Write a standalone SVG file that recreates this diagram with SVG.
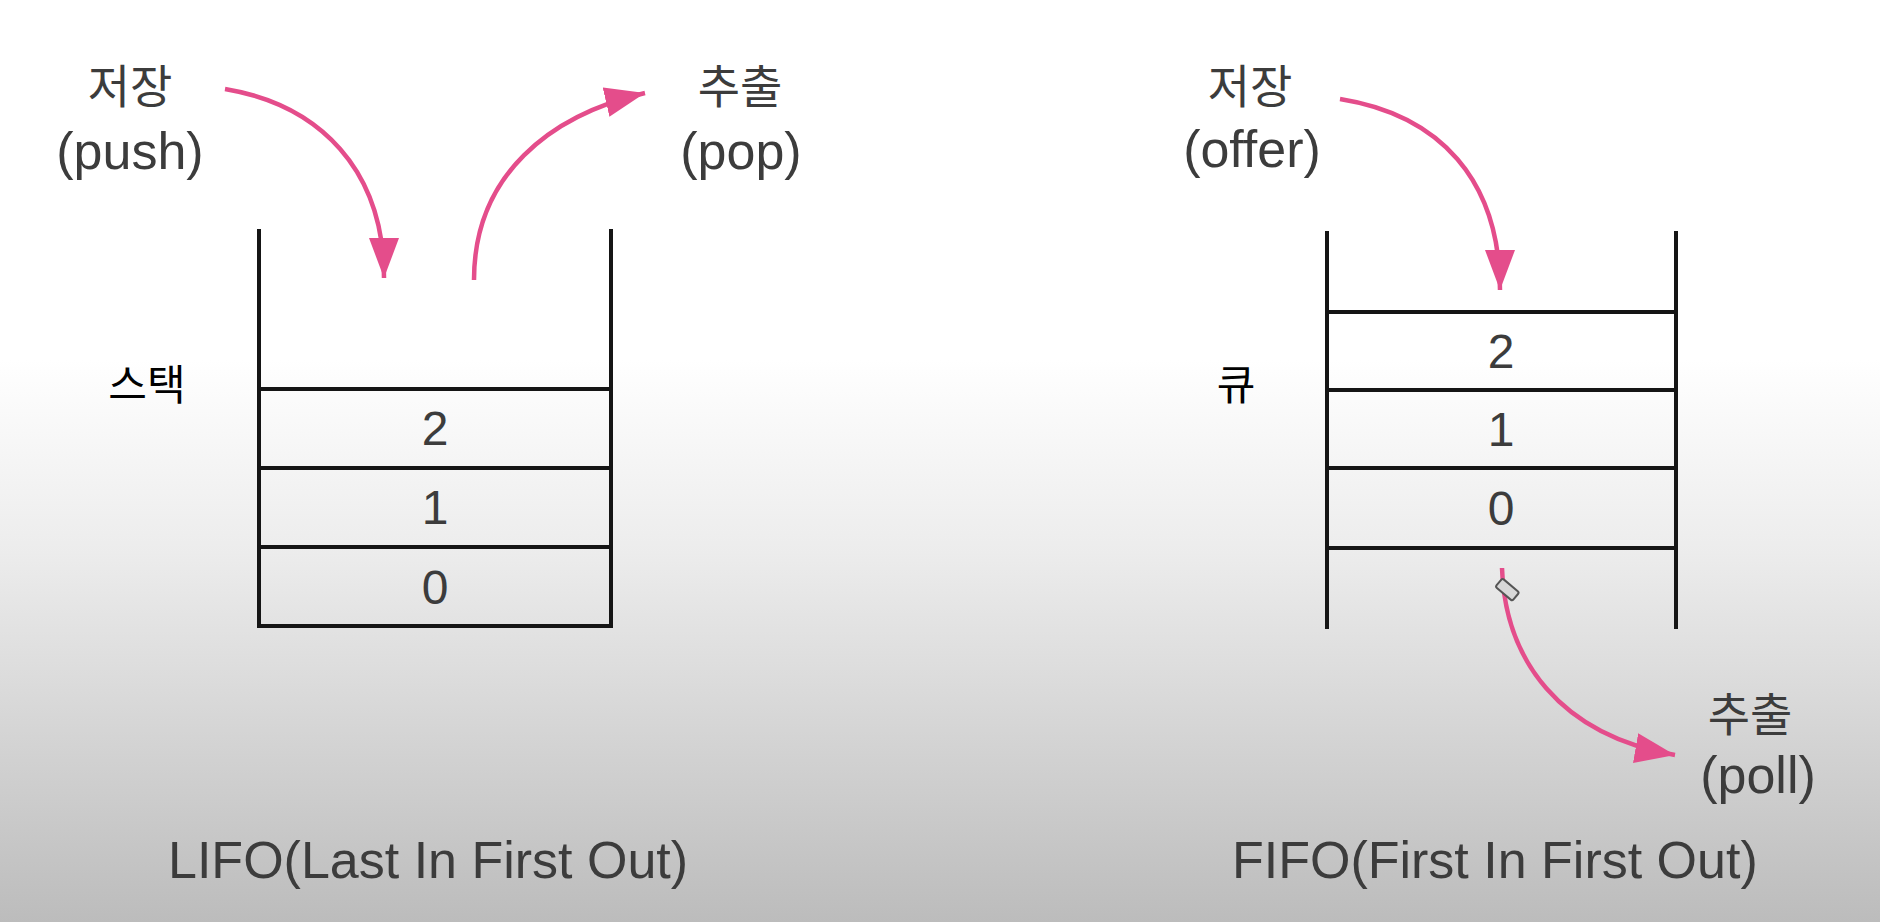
<svg xmlns="http://www.w3.org/2000/svg" width="1880" height="922" viewBox="0 0 1880 922">
  <defs>
    <linearGradient id="bg" x1="0" y1="0" x2="0" y2="922" gradientUnits="userSpaceOnUse">
      <stop offset="0" stop-color="#ffffff"/>
      <stop offset="0.39" stop-color="#ffffff"/>
      <stop offset="0.6" stop-color="#ececec"/>
      <stop offset="1" stop-color="#bcbcbc"/>
    </linearGradient>
    <marker id="ah" markerUnits="userSpaceOnUse" markerWidth="42" markerHeight="32" refX="40" refY="15" orient="auto">
      <path d="M0,0 L40,15 L0,30 Z" fill="#e44d8b"/>
    </marker>
    <style>
      .wall { stroke: #151515; stroke-width: 4; fill: none; stroke-linecap: square; }
      .arrow { stroke: #e44d8b; stroke-width: 4.5; fill: none; marker-end: url(#ah); }
      .lbl { font-family: "Liberation Sans", "Noto Sans CJK KR", sans-serif; font-size: 52px; fill: #3c3c3c; text-anchor: middle; }
      .ko { font-family: "Noto Sans CJK KR", sans-serif; font-size: 46px; fill: #3c3c3c; text-anchor: middle; }
      .name { font-family: "Noto Sans CJK KR", sans-serif; font-size: 42px; fill: #000000; text-anchor: middle; }
      .num { font-family: "Liberation Sans", sans-serif; font-size: 48px; fill: #3c3c3c; text-anchor: middle; }
      .title { font-family: "Liberation Sans", sans-serif; font-size: 52px; fill: #3c3c3c; }
    </style>
  </defs>
  <rect x="0" y="0" width="1880" height="922" fill="url(#bg)"/>

  <g id="stack">
    <path class="wall" d="M259,231 L259,626 L611,626 L611,231"/>
    <line class="wall" x1="259" y1="389" x2="611" y2="389"/>
    <line class="wall" x1="259" y1="468" x2="611" y2="468"/>
    <line class="wall" x1="259" y1="547" x2="611" y2="547"/>
    <text class="num" x="435" y="445">2</text>
    <text class="num" x="435" y="524">1</text>
    <text class="num" x="435" y="604">0</text>
    <text class="name" x="147" y="400">스택</text>
  </g>

  <g id="queue">
    <line class="wall" x1="1327" y1="233" x2="1327" y2="627"/>
    <line class="wall" x1="1676" y1="233" x2="1676" y2="627"/>
    <line class="wall" x1="1327" y1="312" x2="1676" y2="312"/>
    <line class="wall" x1="1327" y1="390" x2="1676" y2="390"/>
    <line class="wall" x1="1327" y1="468" x2="1676" y2="468"/>
    <line class="wall" x1="1327" y1="548" x2="1676" y2="548"/>
    <text class="num" x="1501" y="368">2</text>
    <text class="num" x="1501" y="446">1</text>
    <text class="num" x="1501" y="525">0</text>
    <text class="name" x="1236" y="400">큐</text>
  </g>

  <g id="push-label">
    <text class="ko" x="130" y="103">저장</text>
    <text class="lbl" x="130" y="169">(push)</text>
  </g>
  <g id="pop-label">
    <text class="ko" x="740" y="103">추출</text>
    <text class="lbl" x="741" y="169">(pop)</text>
  </g>
  <g id="offer-label">
    <text class="ko" x="1250" y="103">저장</text>
    <text class="lbl" x="1252" y="167">(offer)</text>
  </g>
  <g id="poll-label">
    <text class="ko" x="1750" y="731">추출</text>
    <text class="lbl" x="1758" y="793">(poll)</text>
  </g>

  <g id="lifo-title">
    <text class="title" x="168" y="878">LIFO(Last In First Out)</text>
  </g>
  <g id="fifo-title">
    <text class="title" x="1232" y="878">FIFO(First In First Out)</text>
  </g>

  <g id="connectors">
    <path class="arrow" d="M225,89 C320,105 384,170 384,278"/>
    <path class="arrow" d="M474,280 C474,175 550,115 645,93"/>
    <path class="arrow" d="M1340,99 C1440,115 1500,180 1500,290"/>
    <path class="arrow" d="M1502,568 C1505,660 1560,735 1675,755"/>
  </g>

  <g id="cursor">
    <rect x="1496" y="584" width="22" height="11" rx="2" transform="rotate(40 1507 590)" fill="#d8d8d8" stroke="#555" stroke-width="2"/>
  </g>
</svg>
